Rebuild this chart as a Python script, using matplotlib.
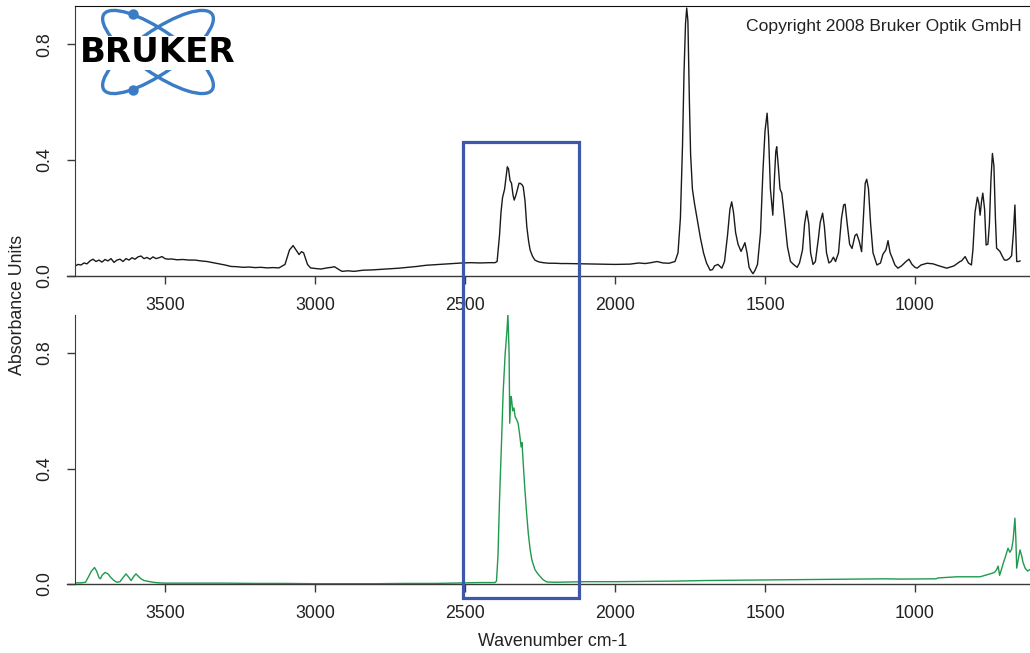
import numpy as np
import matplotlib
matplotlib.use("Agg")
import matplotlib.pyplot as plt
from matplotlib.patches import Ellipse, Rectangle
from matplotlib.transforms import blended_transform_factory

plt.rcParams["font.family"] = ["Liberation Sans", "DejaVu Sans"]

# Top spectrum (sample)
top_wavenumber = [
    3800, 3790, 3780, 3770, 3760, 3750, 3740, 3730, 3720, 3710, 3700, 3690, 3680,
    3670, 3660, 3650, 3640, 3630, 3620, 3610, 3600, 3590, 3580, 3570, 3560, 3550,
    3540, 3530, 3520, 3510, 3500, 3490, 3480, 3460, 3440, 3420, 3400, 3380, 3360,
    3340, 3320, 3300, 3280, 3260, 3240, 3220, 3200, 3180, 3160, 3140, 3120, 3100,
    3085, 3073, 3060, 3053, 3045, 3038, 3025, 3015, 3000, 2980, 2960, 2945, 2935,
    2920, 2910, 2890, 2870, 2840, 2810, 2780, 2750, 2720, 2690, 2660, 2630, 2600,
    2570, 2540, 2510, 2480, 2450, 2420, 2400, 2393, 2385, 2380, 2375, 2368, 2362,
    2359, 2355, 2350, 2345, 2340, 2336, 2330, 2325, 2320, 2316, 2310, 2306, 2300,
    2294, 2288, 2283, 2275, 2267, 2255, 2240, 2220, 2200, 2180, 2160, 2100, 2050,
    2000, 1950, 1920, 1900, 1880, 1860, 1840, 1820, 1800, 1790, 1782, 1775, 1770,
    1765, 1761, 1757, 1752, 1748, 1742, 1735, 1725, 1715, 1705, 1695, 1683, 1675,
    1668, 1657, 1644, 1635, 1625, 1617, 1611, 1605, 1598, 1590, 1580, 1573, 1567,
    1560, 1553, 1545, 1540, 1533, 1525, 1515, 1507, 1500, 1493, 1488, 1482, 1474,
    1468, 1464, 1461, 1455, 1450, 1444, 1435, 1425, 1415, 1405, 1393, 1385, 1375,
    1368, 1361, 1354, 1348, 1340, 1332, 1322, 1316, 1308, 1302, 1295, 1287, 1280,
    1272, 1265, 1255, 1245, 1238, 1233, 1226, 1218, 1210, 1200, 1194, 1186, 1178,
    1172, 1166, 1161, 1155, 1148, 1140, 1127, 1115, 1107, 1097, 1090, 1083, 1075,
    1067, 1057, 1045, 1030, 1020, 1010, 1000, 993, 980, 960, 940, 920, 894, 870,
    850, 845, 833, 822, 812, 807, 800, 792, 787, 783, 778, 774, 768, 763, 757, 752,
    747, 742, 737, 732, 728, 722, 717, 710, 702, 694, 686, 678, 672, 667, 663, 661,
    655, 650,
]
top_absorbance = [
    0.034, 0.040, 0.038, 0.045, 0.042, 0.052, 0.058, 0.050, 0.055, 0.048, 0.057, 0.052, 0.060,
    0.047, 0.055, 0.058, 0.050, 0.060, 0.055, 0.063, 0.058, 0.066, 0.069, 0.060, 0.064, 0.058,
    0.066, 0.060, 0.063, 0.067, 0.060, 0.058, 0.059, 0.056, 0.057, 0.055, 0.055, 0.052, 0.050,
    0.046, 0.042, 0.038, 0.033, 0.032, 0.030, 0.031, 0.029, 0.030, 0.028, 0.029, 0.028, 0.040,
    0.090, 0.105, 0.085, 0.074, 0.084, 0.080, 0.040, 0.028, 0.026, 0.024, 0.028, 0.030, 0.032,
    0.022, 0.016, 0.018, 0.016, 0.020, 0.021, 0.023, 0.025, 0.027, 0.030, 0.033, 0.037, 0.039,
    0.041, 0.043, 0.045, 0.046, 0.045, 0.046, 0.046, 0.050, 0.140, 0.220, 0.270, 0.300, 0.350,
    0.377, 0.370, 0.330, 0.320, 0.280, 0.262, 0.280, 0.300, 0.320, 0.320, 0.315, 0.308, 0.260,
    0.170, 0.120, 0.090, 0.068, 0.055, 0.049, 0.046, 0.044, 0.044, 0.043, 0.043, 0.042, 0.041,
    0.040, 0.041, 0.045, 0.043, 0.046, 0.050, 0.045, 0.044, 0.050, 0.080, 0.200, 0.450, 0.700,
    0.870, 0.925, 0.880, 0.600, 0.420, 0.300, 0.250, 0.190, 0.130, 0.080, 0.045, 0.020, 0.022,
    0.035, 0.040, 0.027, 0.050, 0.140, 0.230, 0.256, 0.220, 0.150, 0.110, 0.085, 0.100, 0.115,
    0.080, 0.030, 0.015, 0.008, 0.020, 0.040, 0.150, 0.360, 0.500, 0.562, 0.480, 0.300, 0.210,
    0.350, 0.430, 0.446, 0.370, 0.300, 0.286, 0.200, 0.100, 0.050, 0.040, 0.030, 0.045, 0.090,
    0.180, 0.225, 0.180, 0.080, 0.040, 0.050, 0.130, 0.185, 0.217, 0.170, 0.080, 0.045, 0.050,
    0.065, 0.050, 0.080, 0.200, 0.245, 0.248, 0.180, 0.110, 0.095, 0.140, 0.145, 0.120, 0.084,
    0.200, 0.320, 0.334, 0.300, 0.180, 0.080, 0.038, 0.045, 0.075, 0.090, 0.122, 0.080, 0.060,
    0.038, 0.027, 0.035, 0.050, 0.058, 0.040, 0.030, 0.027, 0.038, 0.044, 0.042, 0.035, 0.027, 0.035,
    0.050, 0.052, 0.067, 0.045, 0.038, 0.090, 0.220, 0.272, 0.250, 0.210, 0.260, 0.286, 0.230, 0.107, 0.110, 0.180,
    0.330, 0.423, 0.380, 0.200, 0.096, 0.090, 0.085, 0.070, 0.055, 0.055, 0.060, 0.070, 0.150, 0.245, 0.120, 0.050,
    0.050, 0.052,
]

# Bottom spectrum (reference)
bottom_wavenumber = [
    3800, 3780, 3765, 3755, 3745, 3735, 3728, 3720, 3715, 3710, 3700, 3690, 3680,
    3670, 3660, 3650, 3640, 3630, 3622, 3613, 3605, 3597, 3590, 3580, 3570, 3555,
    3540, 3520, 3500, 3400, 3300, 3200, 3100, 3000, 2900, 2800, 2700, 2600, 2500,
    2450, 2400, 2395, 2390, 2385, 2378, 2373, 2366, 2360, 2357, 2353, 2351, 2347,
    2345, 2341, 2337, 2333, 2328, 2323, 2318, 2313, 2310, 2306, 2301, 2295, 2289,
    2283, 2277, 2267, 2257, 2240, 2227, 2200, 2150, 2100, 2000, 1900, 1800, 1700,
    1600, 1500, 1400, 1300, 1200, 1100, 1050, 930, 923, 860, 783, 750, 735, 728,
    723, 718, 712, 705, 700, 690, 684, 678, 673, 667, 664, 661, 655, 650, 645,
    640, 633, 625, 617,
]
bottom_absorbance = [
    0.004, 0.004, 0.006, 0.025, 0.045, 0.057, 0.045, 0.022, 0.018, 0.030, 0.040, 0.035, 0.022,
    0.012, 0.006, 0.008, 0.022, 0.035, 0.025, 0.012, 0.025, 0.035, 0.028, 0.018, 0.012, 0.009,
    0.006, 0.004, 0.003, 0.003, 0.003, 0.002, 0.002, 0.001, 0.001, 0.001, 0.002, 0.002, 0.004,
    0.005, 0.005, 0.010, 0.100, 0.290, 0.500, 0.660, 0.800, 0.880, 0.935, 0.800, 0.557, 0.650,
    0.643, 0.600, 0.610, 0.580, 0.570, 0.557, 0.520, 0.475, 0.490, 0.420, 0.337, 0.250, 0.175,
    0.120, 0.083, 0.050, 0.035, 0.015, 0.007, 0.006, 0.007, 0.008, 0.008, 0.009, 0.010, 0.012,
    0.013, 0.014, 0.015, 0.016, 0.017, 0.018, 0.017, 0.018, 0.021, 0.025, 0.025, 0.035, 0.040, 0.050,
    0.062, 0.030, 0.050, 0.075, 0.090, 0.124, 0.110, 0.120, 0.152, 0.228, 0.160, 0.055, 0.090, 0.118, 0.100,
    0.075, 0.055, 0.045, 0.050,
]

x_ticks = [3500, 3000, 2500, 2000, 1500, 1000]
y_ticks = [0.0, 0.4, 0.8]
y_tick_labels = ["0.0", "0.4", "0.8"]
region = (2508, 2120)  # highlighted CO2 band

W, H = 1030, 653
fig = plt.figure(figsize=(W / 100, H / 100), dpi=100)

ax1 = fig.add_axes([75 / W, 1 - 276 / H, 955 / W, 270 / H])
ax2 = fig.add_axes([75 / W, 1 - 584 / H, 955 / W, 269 / H])

axis_col = "#3a3a3a"
text_col = "#222222"

ax1.plot(top_wavenumber, top_absorbance, color="#1a1a1a", lw=1.0)
ax2.plot(bottom_wavenumber, bottom_absorbance, color="#1f9a4e", lw=1.0)

for ax in (ax1, ax2):
    ax.set_xlim(3800, 616.7)
    ax.set_ylim(0, 0.932)
    ax.set_xticks(x_ticks)
    ax.set_xticklabels([str(t) for t in x_ticks])
    ax.set_yticks(y_ticks)
    ax.set_yticklabels(y_tick_labels, rotation=90, va="center")
    ax.tick_params(length=5.8, width=1, color=axis_col, labelcolor=text_col,
                   labelsize=12.8)
    ax.tick_params(axis="x", pad=9)
    ax.tick_params(axis="y", pad=10)
    ax.spines["right"].set_visible(False)
    ax.spines["bottom"].set_visible(False)
    ax.spines["left"].set_color(axis_col)
    # R-style x axis line sticking out a little left of the box
    ax.plot([-8 / 955, 1], [0, 0], transform=ax.transAxes, clip_on=False,
            color=axis_col, lw=1)

ax1.spines["top"].set_color("#111111")
ax2.spines["top"].set_visible(False)

fig.text(553 / W, 1 - 642 / H, "Wavenumber cm-1", ha="center", va="center",
         fontsize=12.8, color=text_col)
fig.text(18 / W, 1 - 305 / H, "Absorbance Units", ha="center", va="center",
         rotation=90, fontsize=12.8, color=text_col)

# blue box spanning both panels
trans = blended_transform_factory(ax1.transData, fig.transFigure)
box = Rectangle((region[0], 1 - 597.7 / H), region[1] - region[0],
                (597.7 - 141.7) / H, transform=trans, fill=False,
                edgecolor="#3d58a8", lw=2.3, zorder=5)
fig.add_artist(box)

# logo and copyright in a pixel-coordinate overlay
ov = fig.add_axes([0, 0, 1, 1], zorder=3)
ov.set_xlim(0, W)
ov.set_ylim(H, 0)
ov.axis("off")
ov.patch.set_alpha(0)

logo_blue = "#3b7cc6"
for ang in (35, -35):
    ov.add_patch(Ellipse((158, 52), 132, 42, angle=ang, fill=False,
                         edgecolor=logo_blue, lw=2.4))
ov.plot([133, 133], [14, 90], "o", color=logo_blue, ms=6.5, ls="none")
ov.text(158, 53, "BRUKER", ha="center", va="center", fontsize=24.5,
        fontweight="heavy", family="DejaVu Sans", color="black",
        bbox=dict(facecolor="white", edgecolor="none", pad=0.3))
ov.text(1022, 26, "Copyright 2008 Bruker Optik GmbH", ha="right", va="center",
        fontsize=12.6, color=text_col)

plt.savefig("out.png", dpi=100)
